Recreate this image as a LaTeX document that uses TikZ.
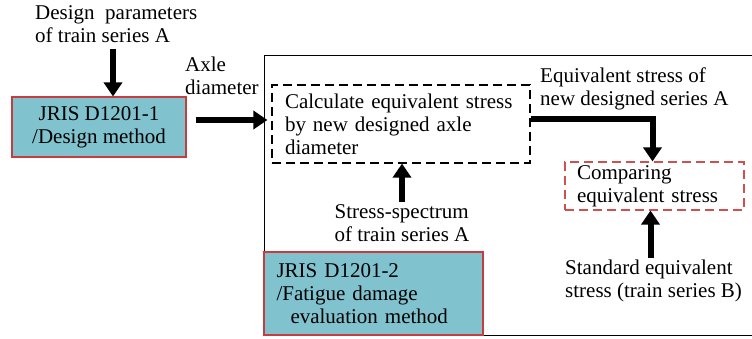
\documentclass[tikz,border=0pt]{standalone}
\usepackage{fontspec}
\setmainfont{Liberation Serif}
\usetikzlibrary{arrows.meta}
\definecolor{boxblue}{RGB}{128,194,206}
\definecolor{boxred}{RGB}{200,60,62}
\definecolor{dashred}{RGB}{208,80,82}
\tikzset{
  txt/.style={inner sep=0pt,align=left,font=\fontsize{21}{23}\selectfont},
  bluebox/.style={draw=boxred,line width=1.1pt,fill=boxblue,inner sep=0pt,font=\fontsize{21}{23}\selectfont},
  dashbox/.style={draw=black,line width=1.2pt,dash pattern=on 9pt off 5pt,inner sep=0pt,font=\fontsize{21}{23}\selectfont},
  reddashbox/.style={draw=dashred,line width=1.1pt,dash pattern=on 9pt off 5pt,inner sep=0pt,font=\fontsize{21}{23}\selectfont},
  bigarrow/.style={line width=6pt,line join=miter,-{Triangle[width=18pt,length=14pt]}}
}
\begin{document}
\begin{tikzpicture}[x=1pt,y=-1pt]
\useasboundingbox (0,0) rectangle (752,338);
\clip (0,0) rectangle (752,338);
% outer frame
\node[draw=black,line width=1.2pt,minimum width=500pt,minimum height=280pt,anchor=north west,inner sep=0pt] (frame) at (264,55) {};
% boxes
\node[bluebox,minimum width=174pt,minimum height=60pt,align=center] (blue1) at (99,127) {JRIS D1201-1\\/Design method};
\node[dashbox,minimum width=258pt,minimum height=78pt,text width=232pt,align=left] (calc) at (401,124) {Calculate equivalent stress\\by new designed axle\\diameter};
\node[reddashbox,minimum width=179pt,minimum height=48pt,text width=155pt,align=left] (comp) at (654.5,186) {\fontsize{21}{17}\selectfont Comparing\\equivalent stress};
\node[bluebox,minimum width=219pt,minimum height=83pt,text width=194pt,align=left] (blue2) at (373.5,293.5) {JRIS D1201-2\\/Fatigue damage\\\ \ evaluation method};
% labels
\node[txt,anchor=north west] (design) at (35,5) {Design\ \ parameters\\of train series A};
\node[txt,anchor=north west] (axle) at (185,57) {Axle\\diameter};
\node[txt,anchor=north west] (eqA) at (540,68) {Equivalent stress of\\new designed series A};
\node[txt,anchor=north] (spec) at (402,204) {Stress-spectrum\\of train series A};
\node[txt,anchor=north west] (std) at (565,260) {Standard equivalent\\stress (train series B)};
% connectors
\draw[bigarrow] ([xshift=14pt]blue1.north |- design.south) ++(0,6) -- ([xshift=14pt]blue1.north);
\draw[bigarrow] ([xshift=9pt,yshift=7pt]blue1.east) -- ([xshift=-4pt,yshift=7pt]blue1.east -| calc.west);
\draw[bigarrow] ([yshift=5pt]calc.east) -| ([xshift=-2pt]comp.north);
\draw[bigarrow] ([yshift=2pt]spec.north) -- (spec.north |- calc.south);
\draw[bigarrow] ([xshift=-4pt,yshift=2pt]comp.south |- std.north) -- ([xshift=-4pt]comp.south);
\end{tikzpicture}
\end{document}
